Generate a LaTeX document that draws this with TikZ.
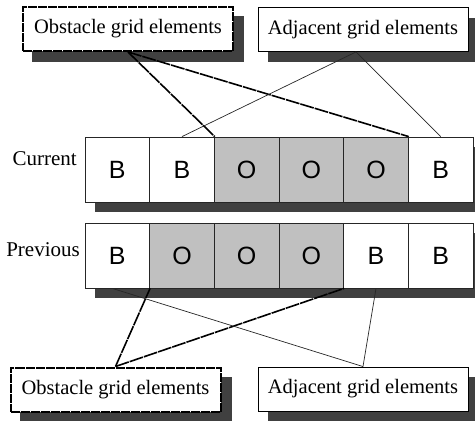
\documentclass[tikz,border=0pt]{standalone}
\usepackage{fontspec}
\setmainfont{Liberation Serif}
\newfontfamily\cellfont{Liberation Sans}
\usetikzlibrary{shadows,calc,backgrounds}
\definecolor{shadowgray}{HTML}{404040}
\definecolor{obstaclefill}{HTML}{C0C0C0}
\begin{document}
\begin{tikzpicture}[x=1pt,y=-1pt,
  boxshadow/.style={drop shadow={shadow xshift=10pt,shadow yshift=-10pt,fill=shadowgray,opacity=1}},
  gridcell/.style={draw=black!85,line width=0.8pt,fill=white,minimum width=64.67pt,
    minimum height=65pt,inner sep=0pt,font=\cellfont\fontsize{25}{25}\selectfont,boxshadow},
  ocell/.style={gridcell,fill=obstaclefill},
  rowlabel/.style={font=\fontsize{21}{21}\selectfont,anchor=base east,inner sep=0pt},
  labelbox/.style={fill=white,minimum width=210pt,minimum height=44pt,inner sep=0pt,
    font=\fontsize{20.5}{20.5}\selectfont},
  obstaclebox/.style={labelbox,draw,line width=2pt,dash pattern=on 9pt off 1pt},
  adjacentbox/.style={labelbox,draw,line width=0.9pt,boxshadow},
  obstaclelink/.style={line width=1.6pt,dash pattern=on 14pt off 1pt},
  adjacentlink/.style={line width=0.7pt,black!85}
]
\useasboundingbox (0,0) rectangle (475,421);

% label boxes
\node[obstaclebox] (obsT) at (128,29) {Obstacle grid elements};
\node[adjacentbox] (adjT) at (363,29.5) {Adjacent grid elements};
\node[obstaclebox] (obsB) at (115.5,389.5) {Obstacle grid elements};
\node[adjacentbox] (adjB) at (363,389) {Adjacent grid elements};

% shadows of the dashed boxes
\begin{pgfonlayer}{background}
  \fill[shadowgray] ($(obsT.south west)+(10,10)$) rectangle ($(obsT.north east)+(10,10)$);
  \fill[shadowgray] ($(obsB.south west)+(10,10)$) rectangle ($(obsB.north east)+(10,10)$);
\end{pgfonlayer}

% rows of grid cells
\foreach \i/\t/\s in {1/B/gridcell,2/B/gridcell,3/O/ocell,4/O/ocell,5/O/ocell,6/B/gridcell}
  \node[\s] (cur\i) at ({85+64.667*(\i-0.5)},169.5) {\t};
\foreach \i/\t/\s in {1/B/gridcell,2/O/ocell,3/O/ocell,4/O/ocell,5/B/gridcell,6/B/gridcell}
  \node[\s] (prev\i) at ({85+64.667*(\i-0.5)},255.5) {\t};

\node[rowlabel] (lcur) at (77,165) {Current};
\node[rowlabel] (lprev) at (80,256) {Previous};

% connectors
\coordinate (adjTfoot) at ($(adjT.south)+(-7,0)$);
\coordinate (prev1foot) at ($(prev1.south)+(-5,0)$);
\draw[obstaclelink] (obsT.south) -- (cur2.north east);
\draw[obstaclelink] (obsT.south) -- (cur5.north east);
\draw[adjacentlink] (adjTfoot) -- (cur2.north);
\draw[adjacentlink] (adjTfoot) -- (cur6.north);
\draw[obstaclelink] (obsB.north) -- (prev1.south east);
\draw[obstaclelink] (obsB.north) -- (prev4.south east);
\draw[adjacentlink] (adjB.north) -- (prev1foot);
\draw[adjacentlink] (adjB.north) -- (prev5.south);
\end{tikzpicture}
\end{document}
